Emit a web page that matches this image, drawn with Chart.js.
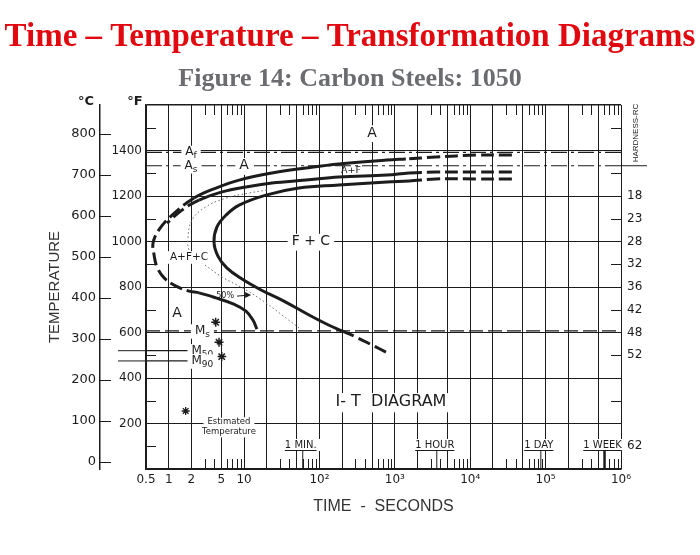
<!DOCTYPE html>
<html>
<head>
<meta charset="utf-8">
<title>TTT diagram 1050</title>
<script src="https://cdn.jsdelivr.net/npm/chart.js@4.4.1/dist/chart.umd.min.js"></script>
<style>
    html, body { margin: 0; padding: 0; background: #fff; }
    canvas { display: block; }
</style>
</head>
<body>
<canvas id="ttt" width="700" height="555"></canvas>
<script>
// times are seconds, temperatures are degrees F

// start of transformation (outer C curve)
var outerTimes = [35700, 11900, 3510, 1400, 785, 181, 66, 23.4, 8.6, 4.24, 2.17, 1.11, 0.74, 0.62, 0.64, 0.70, 0.87, 1.25, 1.86, 2.52, 4.24, 7.3, 10.6, 13.1, 14.8];
var outerTemps = [1380, 1380, 1371, 1363, 1358, 1341, 1323, 1301, 1270, 1235, 1191, 1116, 1051, 993, 941, 888, 840, 804, 782, 774, 752, 725, 694, 655, 615];

// ferrite finish / carbide start
var middleTimes = [35700, 11900, 3510, 1540, 785, 181, 66, 23.4, 10.6, 5.1, 2.52, 1.5, 0.95];
var middleTemps = [1305, 1305, 1305, 1301, 1292, 1284, 1270, 1257, 1240, 1218, 1182, 1138, 1081];

// end of transformation
var innerTimes = [35700, 11900, 3510, 1540, 785, 181, 53.5, 19.5, 8.6, 5.76, 4.37, 3.99, 4.5, 5.9, 9.4, 16.8, 33.7, 72.7, 132, 199, 305, 497, 762];
var innerTemps = [1275, 1275, 1275, 1266, 1262, 1248, 1235, 1204, 1160, 1116, 1064, 998, 936, 884, 835, 787, 738, 677, 633, 607, 580, 545, 514];

// 50% transformed (dotted)
var halfTimes = [20, 11.6, 5.8, 3.1, 2.04, 1.8, 1.86, 2.24, 2.9, 5.1, 10.6, 19.5, 31.8, 53.5];
var halfTemps = [1226, 1213, 1191, 1152, 1094, 1015, 963, 927, 901, 844, 787, 730, 677, 620];

// critical temperatures
var critMain = ['A', 'A', 'M', 'M', 'M'];
var critSub = ['f', 's', 's', '50', '90'];
var critTemps = [1392, 1333, 607, 520, 475];
var critEndTimes = [1e6, 1e6, 1e6, 1.9, 1.9];
var critLabelTimes = [1.98, 1.98, 2.8, 2.8, 2.8];

// estimated Ms, M50, M90 points and the key star
var starTimes = [4.2, 4.65, 5.05];
var starTemps = [645, 557, 494];
var keyStarTimes = [1.68];
var keyStarTemps = [255];

// axes
var gridTimes = [0.5, 1, 2, 5, 10, 20, 50, 100, 200, 500, 1000, 2000, 5000, 1e4, 2e4, 5e4, 1e5, 2e5, 5e5, 1e6];
var timeLabelValues = [0.5, 1, 2, 5, 10, 100, 1000, 1e4, 1e5, 1e6];
var timeLabelText = ['0.5', '1', '2', '5', '10', '10²', '10³', '10⁴', '10⁵', '10⁶'];
var minorSteps = [3, 4, 6, 7, 8, 9];
var gridTempsF = [0, 200, 400, 600, 800, 1000, 1200, 1400, 1600];
var minorTempsF = [100, 300, 500, 700, 900, 1100, 1300, 1500];
var celsiusTicks = [0, 100, 200, 300, 400, 500, 600, 700, 800];
var hardnessTempsF = [1200, 1100, 1000, 900, 800, 700, 600, 500, 100];
var hardnessRC = [18, 23, 28, 32, 36, 42, 48, 52, 62];

var timeMarkSeconds = [60, 3600, 86400, 604800];
var timeMarkLabels = ['1 MIN.', '1 HOUR', '1 DAY', '1 WEEK'];

// region / note labels
var noteText = ['A', 'A', 'A+F', 'F + C', 'A+F+C', 'A', 'I- T  DIAGRAM', 'Estimated', 'Temperature', '50%'];
var noteTimes = [497, 10, 262, 77, 1.86, 1.29, 888, 6.3, 6.3, 5.6];
var noteTemps = [1477, 1333, 1313, 1000, 932, 686, 295, 207, 163, 760];

var ink = '#1c1c1c';

function toC(f) { return (f - 32) * 5 / 9; }

function pts(ts, fs) {
    var out = [];
    for (var i = 0; i < ts.length; i++)
        out.push({ x: ts[i], y: fs[i] });
    return out;
}

// dashed where the curve is extrapolated
function dashRule(tLo, tHi, fLo) {
    return function (ctx) {
        var a = Math.min(ctx.p0.parsed.x, ctx.p1.parsed.x);
        var b = Math.max(ctx.p0.parsed.y, ctx.p1.parsed.y);
        if (a < tLo || a >= tHi || b < fLo)
            return [13, 5];
        return undefined;
    };
}

function curve(ts, fs, rule) {
    return {
        data: pts(ts, fs), borderColor: ink, borderWidth: 3, tension: 0.4,
        pointRadius: 0, fill: false, segment: { borderDash: rule }
    };
}

var datasets = [
    curve(outerTimes, outerTemps, dashRule(2.0, 1400, 0)),
    curve(middleTimes, middleTemps, dashRule(2.0, 1400, 0)),
    curve(innerTimes, innerTemps, dashRule(0, 1400, 615)),
    { data: pts(halfTimes, halfTemps), borderColor: '#6a6a6a', borderWidth: 1, borderDash: [1.5, 2.5], tension: 0.4, pointRadius: 0 }
];

for (var i = 0; i < critTemps.length; i++) {
    datasets.push({
        data: [{ x: 0.5, y: critTemps[i] }, { x: critEndTimes[i], y: critTemps[i] }],
        borderColor: ink, borderWidth: 1.2, pointRadius: 0,
        borderDash: i < 2 ? [16, 4, 3, 4] : (i == 2 ? [14, 5] : [])
    });
}

datasets.push({ data: pts(starTimes, starTemps), showLine: false, pointStyle: 'star', pointRadius: 4.5, borderColor: ink, borderWidth: 1.5 });
datasets.push({ data: pts(keyStarTimes, keyStarTemps), showLine: false, pointStyle: 'star', pointRadius: 4, borderColor: ink, borderWidth: 1.3 });

function seg(c, xa, ya, xb, yb) {
    c.beginPath();
    c.moveTo(xa, ya);
    c.lineTo(xb, yb);
    c.stroke();
}

function tag(c, main, sub, x, y, size, back) {
    c.font = size + 'px "DejaVu Sans"';
    var w1 = c.measureText(main).width;
    var subSize = Math.round(size * 0.72);
    c.font = subSize + 'px "DejaVu Sans"';
    var w2 = sub ? c.measureText(sub).width : 0;
    var w = w1 + w2, left = x - w / 2;
    if (back) {
        c.fillStyle = '#fff';
        c.fillRect(left - 4, y - size * 0.55, w + 8, size * 1.2);
    }
    c.fillStyle = ink;
    c.textAlign = 'left';
    c.textBaseline = 'middle';
    c.font = size + 'px "DejaVu Sans"';
    c.fillText(main, left, y);
    if (sub) {
        c.font = subSize + 'px "DejaVu Sans"';
        c.fillText(sub, left + w1, y + size * 0.3);
    }
}

var noteSize = [14, 14, 9.5, 14, 10.5, 14, 16, 8.5, 8.5, 8];
var noteBack = [true, true, false, true, true, false, true, true, true, false];

var decor = {
    id: 'decor',
    beforeDraw: function (chart) {
        var c = chart.ctx;
        c.save();
        c.fillStyle = '#fff';
        c.fillRect(0, 0, chart.width, chart.height);
        c.restore();
    },
    afterDatasetsDraw: function (chart) {
        var c = chart.ctx, sx = chart.scales.x, sy = chart.scales.y, a = chart.chartArea;
        c.save();
        c.strokeStyle = ink;
        c.lineWidth = 1;

        // short ticks inside the frame
        minorTempsF.forEach(function (f) {
            var p = Math.round(sy.getPixelForValue(f)) + 0.5;
            seg(c, a.left, p, a.left + 10, p);
            seg(c, a.right - 10, p, a.right, p);
        });
        for (var d = 1; d <= 1e5; d *= 10) {
            minorSteps.forEach(function (m) {
                var p = Math.round(sx.getPixelForValue(m * d)) + 0.5;
                seg(c, p, a.top, p, a.top + 10);
                seg(c, p, a.bottom - 10, p, a.bottom);
            });
        }

        // celsius ticks, right of the celsius line
        var yc = chart.scales.yC;
        yc.ticks.forEach(function (t) {
            var p = Math.round(yc.getPixelForValue(t.value)) + 0.5;
            seg(c, yc.right, p, yc.right + 11, p);
        });

        // M50 / M90 run out past the frame
        for (var i = 3; i < 5; i++) {
            var p = sy.getPixelForValue(critTemps[i]);
            seg(c, a.left - 28, p, a.left, p);
        }

        // As line continues under the hardness heading
        var pa = sy.getPixelForValue(critTemps[1]);
        seg(c, a.right, pa, a.right + 26, pa);

        // time marks
        timeMarkSeconds.forEach(function (s, i) {
            var p = sx.getPixelForValue(s);
            c.font = '10px "DejaVu Sans"';
            var w = c.measureText(timeMarkLabels[i]).width;
            c.fillStyle = '#fff';
            c.fillRect(p - w / 2 - 3, a.bottom - 30, w + 6, 12);
            c.fillStyle = ink;
            c.textAlign = 'center';
            c.textBaseline = 'middle';
            c.fillText(timeMarkLabels[i], p - 2, a.bottom - 24);
            c.lineWidth = 1;
            seg(c, p - 2 - w / 2, a.bottom - 18.5, p - 2 + w / 2, a.bottom - 18.5);
            c.lineWidth = i == 3 ? 2.5 : 1;
            seg(c, p, a.bottom, p, a.bottom - 18);
        });
        c.lineWidth = 1;

        // region labels
        for (var n = 0; n < noteText.length; n++) {
            tag(c, noteText[n], '', sx.getPixelForValue(noteTimes[n]), sy.getPixelForValue(noteTemps[n]), noteSize[n], noteBack[n]);
        }
        // 50% arrow
        var ax = sx.getPixelForValue(noteTimes[9]) + 12, ay = sy.getPixelForValue(noteTemps[9]);
        seg(c, ax, ay, ax + 12, ay - 1);
        c.beginPath();
        c.moveTo(ax + 14, ay - 1);
        c.lineTo(ax + 8, ay - 4);
        c.lineTo(ax + 8, ay + 2);
        c.closePath();
        c.fillStyle = ink;
        c.fill();

        // critical temperature labels
        for (var k = 0; k < critMain.length; k++) {
            tag(c, critMain[k], critSub[k], sx.getPixelForValue(critLabelTimes[k]), sy.getPixelForValue(critTemps[k]), 12, true);
        }
        c.restore();
    },
    afterDraw: function (chart) {
        var c = chart.ctx, a = chart.chartArea;
        c.save();
        c.textAlign = 'center';
        c.textBaseline = 'alphabetic';
        c.fillStyle = '#e1080f';
        c.font = 'bold 33px "Liberation Serif"';
        c.fillText('Time – Temperature – Transformation Diagrams', 350, 46, 696);
        c.fillStyle = '#6b6c70';
        c.font = 'bold 26px "Liberation Serif"';
        c.fillText('Figure 14: Carbon Steels: 1050', 350, 86);

        c.fillStyle = ink;
        c.textBaseline = 'middle';
        c.font = 'bold 13px "DejaVu Sans"';
        c.fillText('°C', 86, 102);
        c.fillText('°F', 135, 102);

        c.save();
        c.translate(a.right + 15, 133);
        c.rotate(-Math.PI / 2);
        c.font = '8px "Liberation Sans"';
        c.fillText('HARDNESS-RC', 0, 0);
        c.restore();
        c.restore();
    }
};

Chart.defaults.font.family = '"DejaVu Sans"';

var chart = new Chart(document.getElementById('ttt').getContext('2d'), {
    type: 'line',
    data: { datasets: datasets },
    options: {
        responsive: false,
        animation: false,
        layout: { padding: { top: 105, left: 0, right: 0, bottom: 0 } },
        plugins: { legend: { display: false }, tooltip: { enabled: false } },
        scales: {
            x: {
                type: 'logarithmic', min: 0.5, max: 1e6,
                afterBuildTicks: function (s) { s.ticks = gridTimes.map(function (v) { return { value: v }; }); },
                afterFit: function (s) { s.height = 86; },
                ticks: {
                    autoSkip: false, maxRotation: 0, padding: 4, color: ink,
                    font: { size: 12 },
                    callback: function (v) {
                        var i = timeLabelValues.indexOf(v);
                        return i < 0 ? '' : timeLabelText[i];
                    }
                },
                grid: { color: ink, lineWidth: 1, drawTicks: false },
                border: { display: true, color: ink, width: 1.5 },
                title: {
                    display: true, text: 'TIME  -  SECONDS', color: '#333',
                    font: { family: '"Liberation Sans"', size: 16 },
                    padding: { top: 0, bottom: 39 }
                }
            },
            y: {
                type: 'linear', position: 'left', min: 0, max: 1600, weight: 0,
                afterBuildTicks: function (s) { s.ticks = gridTempsF.map(function (v) { return { value: v }; }); },
                afterFit: function (s) { s.width = 46; },
                ticks: {
                    padding: 4, color: ink, font: { size: 12 },
                    callback: function (v) { return v > 0 && v < 1600 ? String(v) : ''; }
                },
                grid: {
                    color: ink, drawTicks: false,
                    lineWidth: function (ctx) { return ctx.tick && ctx.tick.value == 1600 ? 1.5 : 1; }
                },
                border: { display: true, color: ink, width: 1.5 }
            },
            yC: {
                type: 'linear', position: 'left', min: toC(0), max: toC(1600), weight: 1,
                afterBuildTicks: function (s) { s.ticks = celsiusTicks.map(function (v) { return { value: v }; }); },
                afterFit: function (s) { s.width = 100; },
                ticks: { padding: 4, color: ink, font: { size: 13 }, callback: function (v) { return String(v); } },
                grid: { drawOnChartArea: false, drawTicks: false },
                border: { display: true, color: ink, width: 1.5 },
                title: {
                    display: true, text: 'TEMPERATURE', color: '#333',
                    font: { family: '"Liberation Sans"', size: 15 },
                    padding: { top: 46, bottom: 0 }
                }
            },
            yH: {
                type: 'linear', position: 'right', min: 0, max: 1600,
                afterBuildTicks: function (s) { s.ticks = hardnessTempsF.map(function (v) { return { value: v }; }); },
                afterFit: function (s) { s.width = 79; },
                ticks: {
                    padding: 6, color: ink, font: { size: 12 },
                    callback: function (v) { return String(hardnessRC[hardnessTempsF.indexOf(v)]); }
                },
                grid: { drawOnChartArea: false, drawTicks: false },
                border: { display: false }
            }
        }
    },
    plugins: [decor]
});
</script>
</body>
</html>
